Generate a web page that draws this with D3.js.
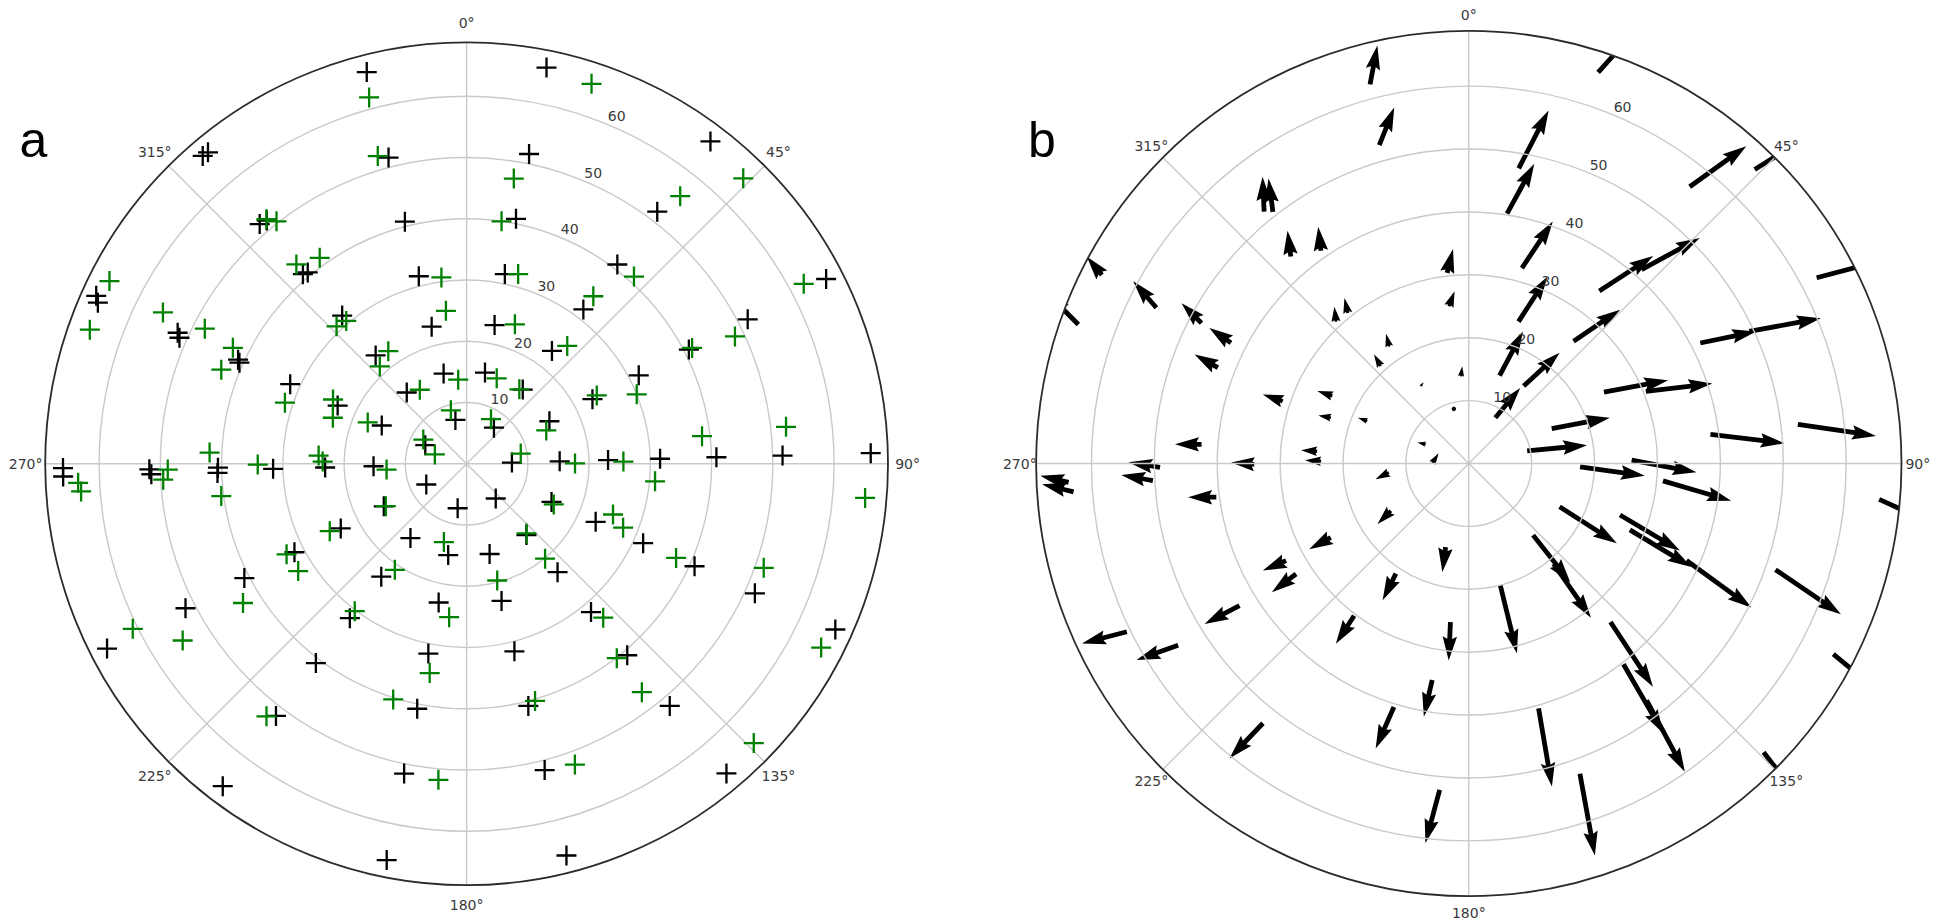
<!DOCTYPE html>
<html>
<head>
<meta charset="utf-8">
<script src="https://cdn.jsdelivr.net/npm/d3@7"></script>
<style>
  html, body { margin: 0; padding: 0; background: #ffffff; }
  svg { display: block; }
</style>
</head>
<body>
<svg id="fig" width="1945" height="922"></svg>
<script>
// ---- axis ticks -------------------------------------------------------
const ringTicks = [10, 20, 30, 40, 50, 60];
const angleTicks = [0, 45, 90, 135, 180, 225, 270, 315];
const angleLabels = ["0°", "45°", "90°", "135°", "180°", "225°", "270°", "315°"];
const rMax = 68.8;

// ---- panel a: reference grid positions [azimuth deg, zenith distance] --
const referencePoints = [
  [345.7, 7.4], [37.1, 7.4], [88.5, 7.4], [140.0, 7.4], [191.4, 7.4], [242.8, 7.4], [294.3, 7.4],
  [11.4, 15.2], [11.4, 23.1], [11.4, 31.6], [11.4, 40.8], [11.4, 51.6], [11.4, 66.0],
  [37.1, 15.2], [37.1, 23.1], [37.1, 31.6], [37.1, 40.8], [37.1, 51.6], [37.1, 66.0],
  [62.8, 15.2], [62.8, 23.1], [62.8, 31.6], [62.8, 40.8], [62.8, 51.6], [62.8, 66.0],
  [88.5, 15.2], [88.5, 23.1], [88.5, 31.6], [88.5, 40.8], [88.5, 51.6], [88.5, 66.0],
  [114.2, 15.2], [114.2, 23.1], [114.2, 31.6], [114.2, 40.8], [114.2, 51.6], [114.2, 66.0],
  [140.0, 15.2], [140.0, 23.1], [140.0, 31.6], [140.0, 40.8], [140.0, 51.6], [140.0, 66.0],
  [165.7, 15.2], [165.7, 23.1], [165.7, 31.6], [165.7, 40.8], [165.7, 51.6], [165.7, 66.0],
  [191.4, 15.2], [191.4, 23.1], [191.4, 31.6], [191.4, 40.8], [191.4, 51.6], [191.4, 66.0],
  [217.1, 15.2], [217.1, 23.1], [217.1, 31.6], [217.1, 40.8], [217.1, 51.6], [217.1, 66.0],
  [242.8, 15.2], [242.8, 23.1], [242.8, 31.6], [242.8, 40.8], [242.8, 51.6], [242.8, 66.0],
  [268.5, 15.2], [268.5, 23.1], [268.5, 31.6], [269.1, 40.6], [267.9, 40.7], [269.0, 51.8],
  [268.1, 51.5], [269.4, 65.9], [268.2, 65.9],
  [294.3, 15.2], [294.3, 23.1], [294.3, 31.6], [294.5, 41.0], [294.0, 40.6], [294.4, 51.8],
  [293.7, 51.2], [294.4, 66.4], [293.6, 65.7],
  [320.0, 15.2], [320.0, 23.1], [320.0, 31.6], [319.2, 40.9], [320.3, 40.6], [319.2, 51.7],
  [320.6, 51.4], [319.4, 66.2], [320.3, 66.1],
  [345.7, 15.2], [345.7, 23.1], [345.7, 31.6], [345.7, 40.8], [345.7, 51.6], [345.7, 66.0]
];

// ---- panel a: measured positions [azimuth deg, zenith distance] -------
const measuredPoints = [
  [345.1, 61.9], [343.9, 52.3], [352.3, 30.7], [352.3, 25.2], [354.3, 13.8], [327.7, 14.3],
  [343.6, 9.1], [299.2, 8.1], [286.4, 5.4], [320.7, 51.6], [321.9, 50.3], [319.5, 42.8],
  [324.5, 41.3], [297.1, 65.5], [289.6, 65.3], [296.5, 55.4], [297.3, 48.1], [296.4, 42.6],
  [291.0, 42.9], [288.6, 31.3], [319.9, 30.5], [316.6, 30.9], [325.2, 22.4], [318.3, 21.3],
  [295.7, 24.2], [289.0, 23.1], [292.7, 17.5], [272.5, 42.0], [273.2, 24.2], [270.9, 23.5],
  [18.2, 65.3], [9.4, 47.2], [44.1, 64.9], [38.6, 55.9], [8.2, 40.0], [41.8, 41.0],
  [61.9, 62.4], [15.2, 32.1], [37.1, 34.3], [64.6, 48.5], [19.1, 24.1], [40.5, 25.3],
  [62.8, 41.4], [19.4, 14.8], [35.3, 14.9], [62.3, 24.0], [67.8, 30.0], [28.7, 8.3],
  [67.3, 14.1], [83.3, 38.7], [83.4, 52.5], [79.3, 9.0], [89.8, 17.7], [89.2, 25.6],
  [95.3, 30.9], [94.9, 65.3], [115.0, 15.7], [109.1, 25.3], [112.2, 27.6], [139.3, 15.0],
  [140.4, 20.1], [114.2, 37.5], [109.3, 51.4], [165.3, 19.7], [138.4, 33.6], [117.4, 65.2],
  [142.3, 40.1], [142.5, 47.0], [163.9, 40.3], [134.2, 65.4], [160.2, 52.2],
  [267.2, 63.5], [265.9, 63.1], [268.9, 48.8], [267.0, 49.6], [262.5, 40.4], [269.8, 34.1],
  [265.9, 13.1], [242.3, 14.9], [243.8, 24.9], [196.2, 13.3], [243.3, 32.9], [237.5, 32.6],
  [214.1, 20.9], [238.1, 43.0], [217.2, 30.2], [186.5, 25.2], [243.7, 60.8], [238.1, 54.6],
  [190.0, 34.7], [197.3, 40.3], [218.4, 52.6], [185.1, 51.8]
];

// ---- panel b: offset vectors, tail position [azimuth deg, zenith distance]
const arrowTails = [
  [345.4, 62.3], [344.3, 52.6], [320.9, 51.6], [322.1, 50.7], [319.3, 43.4], [325.2, 41.2],
  [353.5, 30.5], [352.8, 25.2], [316.9, 30.9], [321.2, 30.7], [325.8, 22.5], [317.9, 20.9],
  [354.9, 13.9], [328.1, 14.5], [344.7, 9.0], [297.2, 65.6], [289.6, 65.9], [296.5, 55.5],
  [297.7, 48.0], [296.9, 42.4], [290.9, 42.7], [288.5, 31.2], [296.3, 24.2], [288.4, 23.1],
  [292.7, 17.5], [274.1, 42.6], [294.0, 7.5], [270.5, 5.8],
  [267.3, 63.7], [265.9, 63.0], [269.3, 49.1], [266.9, 50.3], [269.8, 34.1], [262.4, 40.5],
  [274.6, 24.2], [270.9, 23.5], [263.6, 12.8], [238.8, 14.5], [241.8, 24.9], [242.0, 32.9],
  [237.4, 32.6], [238.2, 42.9], [243.8, 60.6], [238.0, 54.5], [195.5, 13.8], [213.5, 21.0],
  [217.0, 30.3], [186.6, 25.4], [189.6, 34.9], [197.1, 40.5], [218.4, 52.7], [185.1, 52.1],
  [18.3, 65.5], [9.6, 47.6], [8.7, 40.2], [15.2, 32.2], [19.3, 23.9], [19.3, 14.8],
  [35.3, 15.1], [30.1, 8.4], [40.6, 25.6], [37.1, 34.4], [41.7, 41.3], [38.6, 56.3],
  [44.2, 65.2], [61.9, 62.7], [62.5, 41.5], [64.8, 49.3], [62.2, 24.3], [67.8, 30.4],
  [67.2, 14.3], [77.8, 9.5], [83.1, 38.7], [83.2, 52.7],
  [91.7, 17.7], [88.8, 25.9], [95.1, 31.0], [95.0, 65.5], [115.5, 16.0], [108.8, 25.4],
  [112.4, 27.7], [114.0, 37.9], [109.1, 51.6], [138.1, 15.3], [139.8, 20.9], [165.5, 20.0],
  [138.2, 33.8], [142.4, 40.3], [143.1, 47.1], [164.1, 40.5], [160.3, 52.4], [117.6, 65.4],
  [134.4, 65.6]
];

// ---- panel b: offset vectors [east, north], same units as the radius --
const arrowVectors = [
  [1.17, 6.18], [2.38, 5.97], [-0.25, 5.55], [-0.70, 5.29], [-0.52, 4.12], [-0.43, 3.80],
  [0.95, 3.80], [0.90, 2.38], [-0.27, 2.38], [-0.54, 2.38], [-0.52, 2.01], [-1.06, 1.85],
  [0.19, 1.62], [0.50, 0.60], [0.20, 0.20], [-2.38, 2.90], [-5.00, 5.00], [-3.69, 4.22],
  [-3.17, 3.17], [-3.44, 2.38], [-3.71, 2.11], [-3.17, 1.06], [-2.38, 0.79], [-2.01, 0.36],
  [-1.49, 0.54], [-4.23, 0.00], [-1.32, 0.27], [1.00, 1.58],
  [-4.50, 1.05], [-5.02, 1.22], [-5.01, 0.79], [-5.02, 0.90], [-3.69, 0.27], [-4.48, 0.00],
  [-2.54, 0.16], [-2.54, 0.16], [-2.11, -1.06], [-2.11, -2.11], [-3.44, -1.85], [-3.69, -1.58],
  [-3.85, -2.90], [-5.55, -2.90], [-7.13, -1.85], [-6.61, -2.38], [-0.52, -3.96], [-2.11, -4.23],
  [-2.90, -4.48], [-0.27, -6.09], [-1.33, -5.80], [-2.90, -6.61], [-5.29, -5.55], [-2.27, -8.45],
  [6.88, 7.67], [4.75, 9.19], [4.33, 7.92], [4.91, 7.39], [4.60, 7.13], [3.71, 7.02],
  [5.71, 5.29], [3.96, 4.75], [7.40, 5.02], [8.56, 5.55], [9.24, 5.02], [8.99, 6.45],
  [9.38, 5.91], [12.30, 3.25], [8.87, 1.84], [11.36, 2.12], [10.19, 1.90], [10.57, 1.22],
  [9.24, 1.74], [9.51, 0.90], [11.78, -1.43], [12.42, -1.85],
  [10.30, -1.43], [10.30, -1.95], [10.84, -3.17], [11.55, -5.23], [9.10, -5.80], [9.51, -5.66],
  [9.78, -5.91], [10.30, -7.50], [10.41, -7.08], [5.91, -7.50], [5.93, -8.56], [2.65, -10.82],
  [6.75, -10.30], [6.34, -10.98], [6.07, -11.35], [2.12, -12.41], [2.38, -13.00], [9.79, -8.07],
  [7.73, -10.02]
];

// ---- drawing -----------------------------------------------------------
const svg = d3.select("#fig");
svg.append("rect").attr("width", 1945).attr("height", 922).attr("fill", "#ffffff");

const GRID = "#c9c9c9";
const TICK_FONT = "'DejaVu Sans', sans-serif";

function makePolar(cx, cy, R) {
  const r = d3.scaleLinear().domain([0, rMax]).range([0, R]);
  const ang = d3.scaleLinear().domain([0, 360]).range([0, 2 * Math.PI]);
  const pos = (th, rv) => [cx + r(rv) * Math.sin(ang(th)), cy - r(rv) * Math.cos(ang(th))];
  return { cx, cy, R, r, ang, pos };
}

function drawGrid(g, P) {
  g.selectAll("circle.ring").data(ringTicks).join("circle")
    .attr("class", "ring")
    .attr("cx", P.cx).attr("cy", P.cy).attr("r", d => P.r(d))
    .attr("fill", "none").attr("stroke", GRID).attr("stroke-width", 1.4);
  g.selectAll("line.spoke").data(angleTicks).join("line")
    .attr("class", "spoke")
    .attr("x1", P.cx).attr("y1", P.cy)
    .attr("x2", d => P.pos(d, rMax)[0]).attr("y2", d => P.pos(d, rMax)[1])
    .attr("stroke", GRID).attr("stroke-width", 1.4);
}

function drawFrame(g, P, labelDist) {
  g.append("circle")
    .attr("cx", P.cx).attr("cy", P.cy).attr("r", P.R)
    .attr("fill", "none").attr("stroke", "#2b2b2b").attr("stroke-width", 1.8);
  // azimuth labels
  g.selectAll("text.alab").data(angleTicks).join("text")
    .attr("class", "alab")
    .attr("x", d => P.cx + labelDist * Math.sin(P.ang(d)))
    .attr("y", d => P.cy - labelDist * Math.cos(P.ang(d)))
    .attr("text-anchor", "middle").attr("dominant-baseline", "central")
    .attr("font-family", TICK_FONT).attr("font-size", 14).attr("fill", "#3a3a3a")
    .text((d, i) => angleLabels[i]);
  // radial labels along 22.5°
  g.selectAll("text.rlab").data(ringTicks).join("text")
    .attr("class", "rlab")
    .attr("x", d => P.pos(22.5, d)[0] + 0.5)
    .attr("y", d => P.pos(22.5, d)[1] - 3)
    .attr("text-anchor", "start")
    .attr("font-family", TICK_FONT).attr("font-size", 14).attr("fill", "#3a3a3a")
    .text(d => d);
}

// --- panel a: reference (black) and measured (green) positions
const PA = makePolar(466.6, 463.8, 421.4);
const ga = svg.append("g");
drawGrid(ga, PA);
const plus = "M-10,0H10M0,-10V10";
ga.append("g").selectAll("path").data(referencePoints).join("path")
  .attr("d", plus)
  .attr("transform", d => `translate(${PA.pos(d[0], d[1])[0]},${PA.pos(d[0], d[1])[1]})`)
  .attr("stroke", "#000000").attr("stroke-width", 2.3).attr("fill", "none");
ga.append("g").selectAll("path").data(measuredPoints).join("path")
  .attr("d", plus)
  .attr("transform", d => `translate(${PA.pos(d[0], d[1])[0]},${PA.pos(d[0], d[1])[1]})`)
  .attr("stroke", "#008000").attr("stroke-width", 2.3).attr("fill", "none");
drawFrame(ga, PA, 441);

// --- panel b: offset field drawn as quiver arrows
const PB = makePolar(1468.8, 463.5, 432.7);
const gb = svg.append("g");
svg.append("defs").append("clipPath").attr("id", "clipB")
  .append("circle").attr("cx", PB.cx).attr("cy", PB.cy).attr("r", PB.R);

const SHAFT = 4.8;               // shaft width in px
const HEAD_LEN = 5, HEAD_AXIS = 4.5, HEAD_W = 3;   // in shaft widths

function arrowPolygon(lenPx) {
  const L = lenPx / SHAFT;
  let pts;
  if (L < 1) {
    pts = d3.range(0, 8).map(k => [0.5 * Math.cos(k * Math.PI / 3), 0.5 * Math.sin(k * Math.PI / 3)]);
  } else {
    let xs, ys;
    if (L < HEAD_LEN) {
      const s = L / HEAD_LEN;
      xs = [0, HEAD_LEN - HEAD_AXIS, 0, HEAD_LEN].map(v => v * s);
      ys = [0.5, 0.5, HEAD_W / 2, 0].map(v => v * s);
    } else {
      xs = [0, L - HEAD_AXIS, L - HEAD_LEN, L];
      ys = [0.5, 0.5, HEAD_W / 2, 0];
    }
    const idx = [0, 1, 2, 3, 2, 1, 0];
    pts = idx.map((k, j) => [xs[k], j >= 3 ? -ys[k] : ys[k]]);
  }
  return "M" + pts.map(p => `${(p[0] * SHAFT).toFixed(2)},${(p[1] * SHAFT).toFixed(2)}`).join("L") + "Z";
}

const pxPerUnit = PB.r(1);
const arrowData = arrowTails.map((t, i) => ({ tail: t, vec: arrowVectors[i] }));
gb.append("g").attr("clip-path", "url(#clipB)")
  .selectAll("path").data(arrowData).join("path")
  .attr("d", d => arrowPolygon(Math.hypot(d.vec[0], d.vec[1]) * pxPerUnit))
  .attr("transform", d => {
    const [x, y] = PB.pos(d.tail[0], d.tail[1]);
    const rot = Math.atan2(-d.vec[1], d.vec[0]) * 180 / Math.PI;
    return `translate(${x},${y}) rotate(${rot})`;
  })
  .attr("fill", "#000000");
drawGrid(gb, PB);
drawFrame(gb, PB, 449);

// ---- panel letters
svg.append("text").attr("x", 19.5).attr("y", 157)
  .attr("font-family", "'Liberation Sans', Arial, sans-serif").attr("font-size", 50)
  .attr("fill", "#000").text("a");
svg.append("text").attr("x", 1028).attr("y", 157)
  .attr("font-family", "'Liberation Sans', Arial, sans-serif").attr("font-size", 50)
  .attr("fill", "#000").text("b");
</script>
</body>
</html>
